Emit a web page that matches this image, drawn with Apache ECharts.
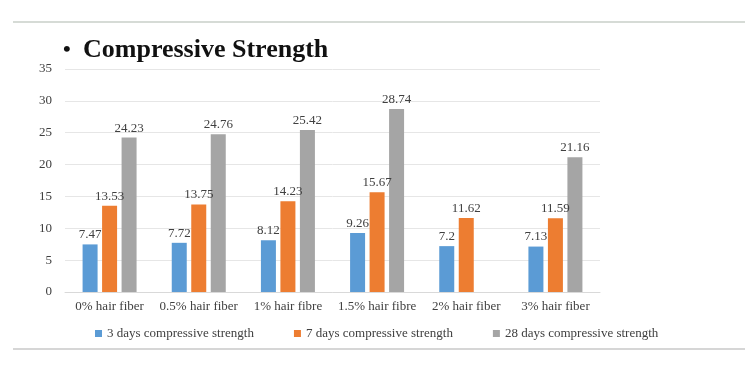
<!DOCTYPE html>
<html>
<head>
<meta charset="utf-8">
<script src="https://cdn.jsdelivr.net/npm/echarts@6/dist/echarts.min.js"></script>
<style>
html,body{margin:0;padding:0;background:#fff;}
#c{width:745px;height:369px;}
</style>
</head>
<body>
<div id="c"></div>
<script>
var categories = ['0% hair fiber', '0.5% hair fiber', '1% hair fibre', '1.5% hair fibre', '2% hair fiber', '3% hair fiber'];
var seriesNames = ['3 days compressive strength', '7 days compressive strength', '28 days compressive strength'];
var days3 = [7.47, 7.72, 8.12, 9.26, 7.2, 7.13];
var days7 = [13.53, 13.75, 14.23, 15.67, 11.62, 11.59];
var days28 = [24.23, 24.76, 25.42, 28.74, null, 21.16];
var yTicks = {min: 0, max: 35, interval: 5};
var colors = ['#5B9BD5', '#ED7D31', '#A5A5A5'];

var font = '"Liberation Serif", "DejaVu Serif", serif';
var chart = echarts.init(document.getElementById('c'));
function mk(name, data, color) {
  return {
    name: name, type: 'bar', data: data, barWidth: 15, barGap: '30%',
    itemStyle: {color: color},
    label: {show: true, position: 'top', distance: 3, fontFamily: font, fontSize: 13, color: '#404040'}
  };
}
chart.setOption({
  animation: false,
  backgroundColor: '#fff',
  title: {
    text: '{b|\u2022}{t|Compressive Strength}', left: 58, top: 32,
    textStyle: {
      rich: {
        b: {fontFamily: font, fontSize: 22, fontWeight: 'bold', color: '#111', width: 20},
        t: {fontFamily: font, fontSize: 26, fontWeight: 'bold', color: '#111'}
      }
    }
  },
  graphic: [
    {type: 'line', shape: {x1: 13, y1: 22, x2: 745, y2: 22}, style: {stroke: '#c8cfc8', lineWidth: 1.5}},
    {type: 'line', shape: {x1: 13, y1: 349, x2: 745, y2: 349}, style: {stroke: '#c8c8c8', lineWidth: 1.5}}
  ],
  grid: {left: 65, right: 145, top: 69, bottom: 77},
  legend: {
    left: 90, top: 322, itemWidth: 7, itemHeight: 7, itemGap: 40, icon: 'rect',
    textStyle: {fontFamily: font, fontSize: 13, color: '#404040'},
    data: seriesNames
  },
  xAxis: {
    type: 'category', data: categories,
    axisLine: {lineStyle: {color: '#d9d9d9'}},
    axisTick: {show: false},
    axisLabel: {fontFamily: font, fontSize: 13, color: '#404040', margin: 8, interval: 0}
  },
  yAxis: {
    type: 'value', min: yTicks.min, max: yTicks.max, interval: yTicks.interval,
    axisLine: {show: false}, axisTick: {show: false},
    splitLine: {lineStyle: {color: '#e6e6e6'}},
    axisLabel: {fontFamily: font, fontSize: 13, color: '#404040', margin: 13}
  },
  series: [mk(seriesNames[0], days3, colors[0]), mk(seriesNames[1], days7, colors[1]), mk(seriesNames[2], days28, colors[2])]
});
</script>
</body>
</html>
